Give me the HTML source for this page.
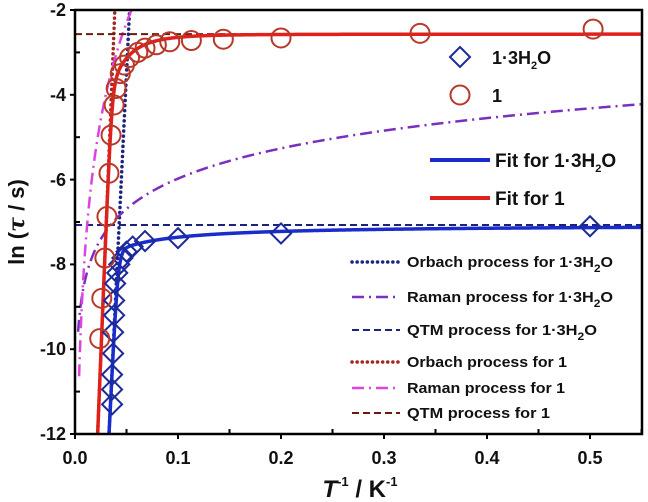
<!DOCTYPE html>
<html><head><meta charset="utf-8"><style>
html,body{margin:0;padding:0;background:#fff;width:648px;height:502px;overflow:hidden}
svg{display:block;font-family:"Liberation Sans",sans-serif;font-weight:bold}
</style></head><body>
<svg id="s" width="648" height="502" viewBox="0 0 648 502" xmlns="http://www.w3.org/2000/svg">
<defs><clipPath id="c"><rect x="75" y="10" width="567" height="424"/></clipPath></defs>
<g id="plot" clip-path="url(#c)"></g>
<rect x="75" y="10" width="567" height="424" fill="none" stroke="#000" stroke-width="2.5"/>
<g id="ticks" stroke="#000" stroke-width="2"></g>
<g font-size="18" text-anchor="end" fill="#111">
<text x="66" y="16">-2</text><text x="66" y="101">-4</text><text x="66" y="186">-6</text>
<text x="66" y="270">-8</text><text x="66" y="355">-10</text><text x="66" y="440">-12</text>
</g>
<g font-size="18" text-anchor="middle" fill="#111">
<text x="75" y="464">0.0</text><text x="178" y="464">0.1</text><text x="281" y="464">0.2</text>
<text x="384" y="464">0.3</text><text x="487" y="464">0.4</text><text x="590" y="464">0.5</text>
</g>
<text x="360" y="497" font-size="24" text-anchor="middle" fill="#111"><tspan font-style="italic">T</tspan><tspan font-size="13" dy="-11">-1</tspan><tspan dy="11"> / K</tspan><tspan font-size="13" dy="-11">-1</tspan></text>
<text transform="translate(24,222) rotate(-90)" font-size="22" text-anchor="middle" fill="#111">ln (<tspan font-style="italic" font-family="'DejaVu Serif',serif">τ</tspan> / s)</text>
<g id="leg"></g>
</svg>
<script>
var X=function(x){return 75+x*1030},Y=function(y){return 10+(-2-y)*42.4};
var P=document.getElementById('plot'),NS='http://www.w3.org/2000/svg';
function el(p,t,a){var e=document.createElementNS(NS,t);for(var k in a)e.setAttribute(k,a[k]);p.appendChild(e);return e}
function path(f,x0,x1,st){var d='',n=600;for(var i=0;i<=n;i++){var x=x0+(x1-x0)*Math.pow(i/n,2.2);var y=f(x);if(y>-1)y=-1;if(y<-13)y=-13;d+=(i?'L':'M')+X(x).toFixed(2)+' '+Y(y).toFixed(2)}st.d=d;st.fill='none';el(P,'path',st)}
function comb(){var a=arguments;return function(x){var r=0;for(var i=0;i<a.length;i++)r+=Math.exp(-a[i](x));return -Math.log(r)}}
var O1=function(x){return -12+600*(x-0.022)},R1=function(x){return -4.1+3.3*Math.log(x/0.029)},Q1=function(){return -2.57};
var O2=function(x){return -6+500*(x-0.045)},R2=function(x){return -5.82+1.03*Math.log(x/0.1165)},Q2=function(){return -7.07};
path(O2,0.02,0.07,{stroke:'#1a237e','stroke-width':3.5,'stroke-dasharray':'0.1 5','stroke-linecap':'round'});
path(R2,0.003,0.56,{stroke:'#7b2fbe','stroke-width':2.5,'stroke-dasharray':'12 5 2 5'});
path(Q2,0,0.56,{stroke:'#1a237e','stroke-width':2,'stroke-dasharray':'7 4'});
path(O1,0.015,0.05,{stroke:'#a0281c','stroke-width':3.5,'stroke-dasharray':'0.1 5','stroke-linecap':'round'});
path(R1,0.004,0.07,{stroke:'#dd44dd','stroke-width':2.5,'stroke-dasharray':'12 5 2 5'});
path(Q1,0,0.56,{stroke:'#6b1a10','stroke-width':2,'stroke-dasharray':'7 4'});
path(comb(O2,R2,Q2),0.028,0.56,{stroke:'#1a2ccc','stroke-width':3.5});
path(comb(O1,R1,Q1),0.02,0.56,{stroke:'#e0201b','stroke-width':3.5});
var dm=[[0.5,-7.1],[0.2,-7.27],[0.1,-7.38],[0.068,-7.45],[0.056,-7.58],[0.05,-7.7],[0.046,-7.85],[0.043,-8.0],[0.041,-8.2],[0.039,-8.45],[0.038,-8.85],[0.038,-9.2],[0.037,-9.6],[0.037,-10.1],[0.036,-10.6],[0.036,-10.95],[0.036,-11.3]];
dm.forEach(function(p){var x=X(p[0]),y=Y(p[1]),r=10;el(P,'path',{d:'M'+x+' '+(y-r)+'L'+(x+r)+' '+y+'L'+x+' '+(y+r)+'L'+(x-r)+' '+y+'Z',fill:'none',stroke:'#1c2a9a','stroke-width':2})});
var ci=[[0.503,-2.45],[0.335,-2.55],[0.2,-2.66],[0.144,-2.69],[0.113,-2.72],[0.092,-2.75],[0.079,-2.82],[0.068,-2.9],[0.061,-3.0],[0.053,-3.12],[0.048,-3.3],[0.044,-3.5],[0.040,-3.85],[0.038,-4.24],[0.035,-4.95],[0.033,-5.85],[0.031,-6.87],[0.029,-7.85],[0.026,-8.8],[0.024,-9.75]];
ci.forEach(function(p){el(P,'circle',{cx:X(p[0]),cy:Y(p[1]),r:9.5,fill:'none',stroke:'#b8392a','stroke-width':2})});
var T=document.getElementById('ticks');
for(var i=0;i<=11;i++){var x=X(i*0.05);el(T,'line',{x1:x,y1:434,x2:x,y2:i%2?429:439})}
for(var j=2;j<=12;j++){var y=Y(-j);el(T,'line',{x1:75,y1:y,x2:j%2?80:70,y2:y})}
var L=document.getElementById('leg');
el(L,'path',{d:'M460 47L470 57L460 67L450 57Z',fill:'none',stroke:'#1c2a9a','stroke-width':2});
el(L,'circle',{cx:460,cy:95,r:9.5,fill:'none',stroke:'#b8392a','stroke-width':2});
function tx(x,y,s,html,len){var a={x:x,y:y,'font-size':s,fill:'#111'};if(len){a.textLength=len;a.lengthAdjust='spacingAndGlyphs'}var t=el(L,'text',a);t.innerHTML=html}
var sub='1·3H<tspan dy="5" font-size="11">2</tspan><tspan dy="-5">O</tspan>';
tx(492,64,18,sub);tx(492,102,18,'1');
el(L,'line',{x1:430,y1:160,x2:490,y2:160,stroke:'#1a2ccc','stroke-width':4});
el(L,'line',{x1:430,y1:198,x2:490,y2:198,stroke:'#e0201b','stroke-width':4});
tx(495,167,19,'Fit for '+sub);tx(495,205,19,'Fit for 1');
var lg=[[262,'#1a237e','0.1 5',3.5,'Orbach process for '+sub,206],[297,'#7b2fbe','12 5 2 5',2.5,'Raman process for '+sub,206],[330,'#1a237e','7 4',2,'QTM process for '+sub,190],[362,'#a0281c','0.1 5',3.5,'Orbach process for 1',160],[388,'#dd44dd','12 5 2 5',2.5,'Raman process for 1',158],[413,'#6b1a10','7 4',2,'QTM process for 1',143]];
lg.forEach(function(g){el(L,'line',{x1:352,y1:g[0],x2:400,y2:g[0],stroke:g[1],'stroke-dasharray':g[2],'stroke-width':g[3],'stroke-linecap':g[2]=='0.1 5'?'round':'butt'});tx(407,g[0]+5,15,g[4],g[5])});
</script>
</body></html>
